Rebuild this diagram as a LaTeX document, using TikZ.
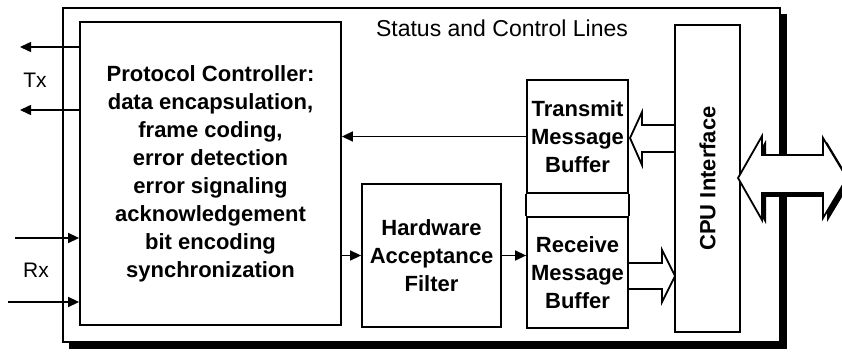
\documentclass[tikz,border=0pt]{standalone}
\usepackage{fontspec}
\setmainfont{Liberation Sans}
\usetikzlibrary{arrows.meta,calc}
\begin{document}
\begin{tikzpicture}[x=1pt,y=-1pt,
  box/.style={draw,line width=1.8pt,fill=white,align=center,inner sep=0pt,
    font=\bfseries\fontsize{22}{28}\selectfont},
  sig/.style={line width=1.5pt,-{Triangle[length=11pt,width=10pt]}},
  hollow/.style={draw,line width=1.8pt,fill=white,line join=miter},
  shade/.style={fill=black},
  txt/.style={font=\fontsize{21}{25}\selectfont}]
\clip (0,0) rectangle (842,355);
\fill[white] (0,0) rectangle (842,355);

% outer frame with drop shadow
\fill[shade] (69,14) rectangle (787,349);
\node[draw,line width=1.8pt,fill=white,minimum width=717pt,minimum height=334pt,inner sep=0pt]
  (frame) at (421.5,175) {};

\node[txt,font=\fontsize{23}{27}\selectfont] (status) at (502,28) {Status and Control Lines};

% functional blocks
\node[box,minimum width=261pt,minimum height=303pt] (pc) at (210.5,173.5)
  {Protocol Controller:\\data encapsulation,\\frame coding,\\error detection\\error signaling\\acknowledgement\\bit encoding\\synchronization};
\node[box,minimum width=139pt,minimum height=143pt] (haf) at (431.5,255.5)
  {Hardware\\Acceptance\\Filter};
\node[box,minimum width=101pt,minimum height=113pt] (tmb) at (577.5,136.5)
  {Transmit\\Message\\Buffer};
\node[box,minimum width=101pt,minimum height=111pt] (rmb) at (577.5,272.5)
  {Receive\\Message\\Buffer};
\draw[line width=1.8pt] (tmb.south west) -- (rmb.north west);
\draw[line width=1.8pt] (tmb.south east) -- (rmb.north east);
\node[box,minimum width=65pt,minimum height=307pt] (cpu) at (707.5,178.5) {};
\node[rotate=90,font=\bfseries\fontsize{22}{28}\selectfont] (cpulbl) at (cpu.center) {CPU Interface};

% Tx / Rx lines
\coordinate (tx1) at (20,47);
\coordinate (tx2) at (20,110);
\coordinate (rx1) at (15,238);
\coordinate (rx2) at (8,302);
\draw[sig] (pc.west |- tx1) -- (tx1);
\draw[sig] (pc.west |- tx2) -- (tx2);
\draw[sig] (rx1) -- (pc.west |- rx1);
\draw[sig] (rx2) -- (pc.west |- rx2);
\node[txt] (txl) at (35,80) {Tx};
\node[txt] (rxl) at (36,270) {Rx};

% internal data paths
\draw[sig] (tmb.west) -- (pc.east |- tmb.west);
\draw[sig] (pc.east |- haf.west) -- (haf.west);
\draw[sig] (haf.east) -- (rmb.west |- haf.east);

% hollow bus arrows to and from the CPU interface
\coordinate (ta) at (630,138);
\draw[hollow] (ta) -- ++(12,-26) -- ++(0,13) -- ++(33,0) -- ++(0,27)
  -- ++(-33,0) -- ++(0,13) -- cycle;
\coordinate (ra) at (675,276);
\draw[hollow] (ra) -- ++(-13,-26) -- ++(0,13) -- ++(-34,0) -- ++(0,26)
  -- ++(34,0) -- ++(0,13) -- cycle;

% external CPU bus (double arrow with shadow)
\coordinate (bl) at (738,178);
\fill[shade] ($(bl)+(4,4)$) -- ++(24,-42) -- ++(0,19) -- ++(61,0) -- ++(0,-17)
  -- ++(24,40) -- ++(-24,40) -- ++(0,-25) -- ++(-61,0) -- ++(0,27) -- cycle;
\draw[hollow] (bl) -- ++(24,-42) -- ++(0,19) -- ++(61,0) -- ++(0,-17)
  -- ++(24,40) -- ++(-24,40) -- ++(0,-25) -- ++(-61,0) -- ++(0,27) -- cycle;
\end{tikzpicture}
\end{document}
